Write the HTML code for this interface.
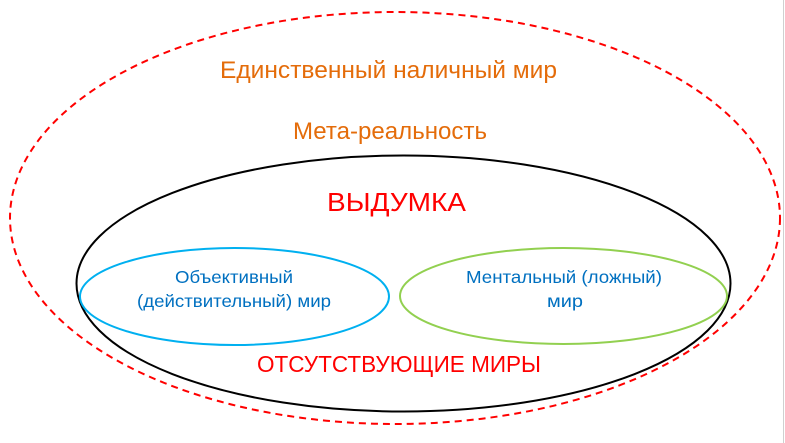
<!DOCTYPE html>
<html><head><meta charset="utf-8"><style>html,body{margin:0;padding:0;background:#fff;width:785px;height:443px;overflow:hidden}</style></head>
<body>
<svg width="785" height="443" viewBox="0 0 785 443" xmlns="http://www.w3.org/2000/svg" font-family="'Liberation Sans', sans-serif">
<line x1="783.5" y1="0" x2="783.5" y2="443" stroke="#d0d0d0" stroke-width="1"/>
<ellipse cx="395" cy="218" rx="385" ry="206" fill="none" stroke="#ff0000" stroke-width="2" stroke-dasharray="7,5"/>
<ellipse cx="403.5" cy="283.5" rx="327" ry="128" fill="none" stroke="#000" stroke-width="2"/>
<ellipse cx="234.5" cy="296.5" rx="154.5" ry="48.5" fill="none" stroke="#00b0f0" stroke-width="2"/>
<ellipse cx="563.5" cy="296" rx="163.5" ry="48" fill="none" stroke="#92d050" stroke-width="2"/>
<text x="220" y="78" font-size="24" fill="#e46c0a" textLength="337" lengthAdjust="spacingAndGlyphs">Единственный наличный мир</text>
<text x="293" y="139" font-size="24" fill="#e46c0a" textLength="194" lengthAdjust="spacingAndGlyphs">Мета-реальность</text>
<text x="327" y="211" font-size="26" fill="#ff0000" textLength="139" lengthAdjust="spacingAndGlyphs">ВЫДУМКА</text>
<text x="257" y="372" font-size="23" fill="#ff0000" textLength="284" lengthAdjust="spacingAndGlyphs">ОТСУТСТВУЮЩИЕ МИРЫ</text>
<text x="175" y="283" font-size="17.5" fill="#0070c0" textLength="118" lengthAdjust="spacingAndGlyphs">Объективный</text>
<text x="137" y="307" font-size="17.5" fill="#0070c0" textLength="194" lengthAdjust="spacingAndGlyphs">(действительный) мир</text>
<text x="466" y="283" font-size="17.5" fill="#0070c0" textLength="196" lengthAdjust="spacingAndGlyphs">Ментальный (ложный)</text>
<text x="547" y="307" font-size="17.5" fill="#0070c0" textLength="36" lengthAdjust="spacingAndGlyphs">мир</text>
</svg>
</body></html>
